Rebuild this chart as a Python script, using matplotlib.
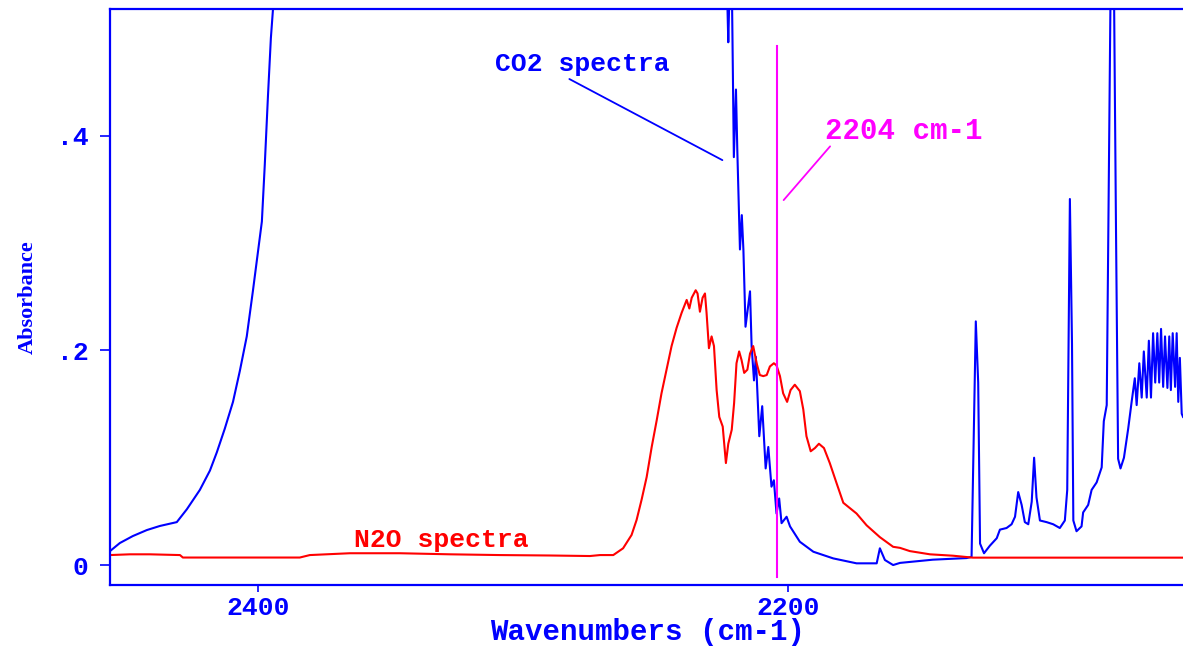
import matplotlib
matplotlib.use("Agg")
import matplotlib.pyplot as plt

# CO2 spectrum (wavenumber, absorbance) - values above the top are saturated
co2_wn = [2455.8, 2452.1, 2447.2, 2441.9, 2437.0, 2430.6, 2426.8, 2421.9, 2418.1, 2415.5,
          2412.5, 2409.4, 2406.8, 2404.2, 2401.9, 2400.4, 2398.5, 2397.4, 2396.2, 2395.1,
          2394.3, 2393.0, 2225.0, 2223.1, 2222.5, 2221.9, 2221.2, 2220.4, 2219.6, 2219.1,
          2218.1, 2217.4, 2216.8, 2216.0, 2214.3, 2213.7, 2212.8, 2212.1, 2210.8, 2209.7,
          2208.4, 2207.4, 2206.2, 2205.3, 2204.3, 2203.3, 2202.4, 2200.5, 2199.2, 2195.5,
          2190.4, 2182.9, 2174.1, 2166.5, 2165.3, 2163.4, 2160.3, 2157.7, 2145.3, 2132.6,
          2130.7, 2129.1, 2128.2, 2127.5, 2126.0, 2123.8, 2121.2, 2120.0, 2117.5, 2115.6,
          2114.3, 2113.1, 2111.8, 2110.6, 2109.3, 2108.0, 2107.1, 2106.2, 2104.9, 2102.4,
          2099.9, 2097.4, 2095.5, 2094.6, 2093.6, 2092.8, 2092.3, 2091.1, 2089.2, 2088.6,
          2086.7, 2085.4, 2083.5, 2081.6, 2080.8, 2079.7, 2078.8, 2078.2, 2077.0, 2076.2,
          2075.4, 2074.5, 2073.2, 2071.6, 2070.3, 2069.1, 2068.4, 2067.4, 2066.5, 2065.7,
          2064.6, 2063.8, 2063.0, 2062.2, 2061.4, 2060.6, 2059.9, 2059.2, 2058.4, 2057.7,
          2056.8, 2056.1, 2055.5, 2054.8, 2053.9, 2053.3, 2052.7, 2052.1, 2051.4, 2050.9]
co2_abs = [0.013, 0.0205, 0.027, 0.0326, 0.0364, 0.040, 0.052, 0.070, 0.088, 0.105,
           0.127, 0.152, 0.181, 0.213, 0.255, 0.284, 0.320, 0.373, 0.437, 0.491,
           0.518, 0.60, 0.60, 0.55, 0.487, 0.55, 0.55, 0.380, 0.443, 0.387,
           0.294, 0.326, 0.294, 0.222, 0.255, 0.204, 0.172, 0.194, 0.120, 0.148,
           0.090, 0.110, 0.073, 0.079, 0.048, 0.062, 0.039, 0.045, 0.036, 0.0217,
           0.0124, 0.0062, 0.0016, 0.0016, 0.0156, 0.0047, 0.0, 0.002, 0.005, 0.0065,
           0.0076, 0.227, 0.170, 0.020, 0.011, 0.018, 0.025, 0.033, 0.0345, 0.038,
           0.045, 0.068, 0.056, 0.040, 0.038, 0.059, 0.100, 0.063, 0.0415, 0.040,
           0.038, 0.0345, 0.0415, 0.070, 0.341, 0.206, 0.0415, 0.0315, 0.036, 0.049,
           0.056, 0.070, 0.077, 0.091, 0.134, 0.149, 0.384, 0.55, 0.55, 0.313,
           0.099, 0.090, 0.100, 0.127, 0.152, 0.174, 0.149, 0.188, 0.156, 0.199,
           0.156, 0.209, 0.156, 0.216, 0.170, 0.216, 0.170, 0.220, 0.166, 0.213,
           0.165, 0.213, 0.163, 0.216, 0.166, 0.216, 0.152, 0.193, 0.141, 0.138]

# N2O spectrum
n2o_wn = [2455.8, 2448.3, 2440.8, 2429.4, 2428.3, 2384.2, 2380.4, 2365.3, 2346.4, 2327.5,
          2308.7, 2289.8, 2274.7, 2270.9, 2265.9, 2262.2, 2259.0, 2257.1, 2255.2, 2253.3,
          2251.4, 2249.5, 2247.7, 2245.8, 2243.9, 2242.0, 2240.1, 2238.2, 2237.2, 2236.3,
          2234.8, 2234.1, 2233.2, 2232.2, 2231.3, 2230.7, 2229.8, 2228.8, 2227.9, 2226.9,
          2225.9, 2224.6, 2223.4, 2222.5, 2221.2, 2220.3, 2219.4, 2218.4, 2217.5, 2216.5,
          2215.3, 2214.3, 2213.1, 2211.8, 2210.6, 2209.3, 2208.0, 2206.8, 2205.3, 2204.3,
          2203.0, 2201.8, 2200.3, 2199.0, 2197.4, 2195.5, 2194.2, 2193.0, 2191.4, 2189.8,
          2188.3, 2186.4, 2184.2, 2181.6, 2179.1, 2174.1, 2170.3, 2165.3, 2160.3, 2157.7,
          2154.0, 2146.4, 2137.7, 2130.2, 2050.0]
n2o_abs = [0.0093, 0.010, 0.010, 0.0093, 0.007, 0.007, 0.0093, 0.011, 0.011, 0.010,
           0.0093, 0.0089, 0.0084, 0.0093, 0.0093, 0.0156, 0.028, 0.042, 0.061, 0.082,
           0.110, 0.135, 0.160, 0.182, 0.204, 0.221, 0.235, 0.247, 0.239, 0.249,
           0.256, 0.253, 0.236, 0.249, 0.253, 0.235, 0.202, 0.213, 0.204, 0.163,
           0.138, 0.129, 0.095, 0.113, 0.126, 0.151, 0.188, 0.199, 0.191, 0.179,
           0.182, 0.197, 0.204, 0.188, 0.177, 0.176, 0.177, 0.185, 0.188, 0.186,
           0.176, 0.160, 0.152, 0.163, 0.168, 0.162, 0.145, 0.120, 0.106, 0.109,
           0.113, 0.109, 0.095, 0.076, 0.058, 0.048, 0.037, 0.026, 0.017, 0.016,
           0.013, 0.010, 0.0087, 0.0069, 0.0069]

marker_wn = 2204.3
xticks = [2400, 2200]
yticks = [0, 0.2, 0.4]
ytick_labels = ['0', '.2', '.4']

BLUE = '#0000ff'
RED = '#ff0000'
MAGENTA = '#ff00ff'
mono = 'Liberation Mono'

fig = plt.figure(figsize=(11.83, 6.48), dpi=100)
ax = fig.add_axes([0.093, 0.0972, 0.9095, 0.8889])

ax.plot(co2_wn, co2_abs, color=BLUE, lw=1.5)
ax.plot(n2o_wn, n2o_abs, color=RED, lw=1.5)
ax.plot([marker_wn, marker_wn], [-0.011, 0.484], color=MAGENTA, lw=1.5)

ax.set_xlim(2455.8, 2049.8)
ax.set_ylim(-0.0186, 0.518)

for s in ax.spines.values():
    s.set_color(BLUE)
    s.set_linewidth(1.6)

ax.set_xticks(xticks)
ax.set_xticklabels([str(t) for t in xticks])
ax.set_yticks(yticks)
ax.set_yticklabels(ytick_labels)
ax.tick_params(axis='y', direction='out', length=7.5, width=1.2, color=BLUE, pad=8,
               labelcolor=BLUE, labelsize=19)
ax.tick_params(axis='x', direction='out', length=5, width=1.2, color=BLUE, pad=3,
               labelcolor=BLUE, labelsize=19)
for lbl in ax.get_xticklabels() + ax.get_yticklabels():
    lbl.set_family(mono)
    lbl.set_weight('bold')

ax.set_xlabel('Wavenumbers (cm-1)', family=mono, weight='bold', fontsize=21,
              color=BLUE, va='center')
ax.xaxis.set_label_coords(0.5, -0.081)
ax.set_ylabel('Absorbance', family='Liberation Serif', weight='bold', fontsize=16,
              color=BLUE, labelpad=14)

# annotations
ax.text(2277.7, 0.467, 'CO2 spectra', family=mono, weight='bold', fontsize=19,
        color=BLUE, ha='center', va='center')
ax.annotate('', xy=(2223.8, 0.376), xytext=(2283.4, 0.454),
            arrowprops=dict(arrowstyle='-', color=BLUE, lw=1.3))

ax.text(2156.2, 0.404, '2204 cm-1', family=mono, weight='bold', fontsize=21,
        color=MAGENTA, ha='center', va='center')
ax.annotate('', xy=(2202.3, 0.338), xytext=(2183.4, 0.392),
            arrowprops=dict(arrowstyle='-', color=MAGENTA, lw=1.3))

ax.text(2330.6, 0.0233, 'N2O spectra', family=mono, weight='bold', fontsize=19,
        color=RED, ha='center', va='center')

fig.savefig('out.png', dpi=100)
